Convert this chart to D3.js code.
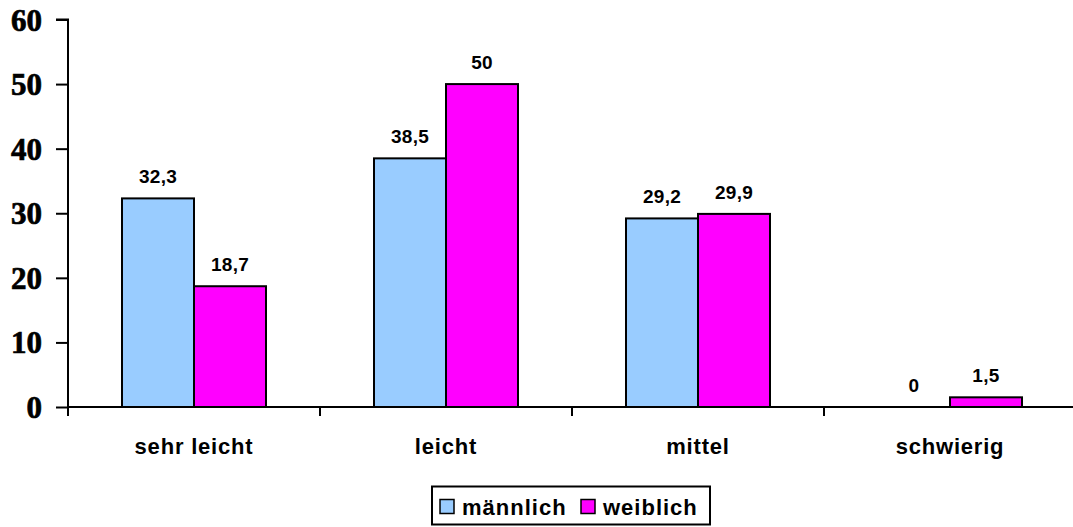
<!DOCTYPE html>
<html><head><meta charset="utf-8">
<script src="https://cdn.jsdelivr.net/npm/d3@7"></script>
<style>body{margin:0;background:#fff}</style>
</head><body>
<svg id="c" width="1073" height="527"></svg>
<script>
const categories = ["sehr leicht", "leicht", "mittel", "schwierig"];
const seriesNames = ["männlich", "weiblich"];
const maleValues = [32.3, 38.5, 29.2, 0];
const femaleValues = [18.7, 50, 29.9, 1.5];
const yTicks = [0, 10, 20, 30, 40, 50, 60];
const colors = ["#99CCFF", "#FF00FF"];

const svg = d3.select("#c");
const x0 = 68, x1 = 1076, yTop = 19.5, yBot = 407;
const x = d3.scaleBand().domain(categories).range([x0, x1]).paddingInner(0).paddingOuter(0);
const xs = d3.scaleBand().domain(seriesNames).range([0, x.bandwidth()]).paddingInner(0).paddingOuter(0.75);
const y = d3.scaleLinear().domain([0, 60]).range([yBot, yTop]);

// y axis
const yAxis = d3.axisLeft(y).tickValues(yTicks).tickSize(12).tickPadding(14).tickFormat(d3.format("d"));
const gy = svg.append("g").attr("transform", `translate(${x0},0)`).call(yAxis);
gy.select(".domain").attr("stroke", "#000").attr("stroke-width", 2).attr("d", `M-12,${yTop}H0V${yBot}`);
gy.selectAll(".tick line").attr("stroke", "#000").attr("stroke-width", 2);
gy.selectAll(".tick text").attr("font-family", "'Liberation Serif', 'Times New Roman', serif")
  .attr("font-weight", "bold").attr("font-size", 31).attr("fill", "#000")
  .attr("stroke", "#000").attr("stroke-width", 0.7).attr("dy", "0.34em");

// bars
const data = categories.map((c, i) => ({c, vals: [maleValues[i], femaleValues[i]]}));
const groups = svg.append("g").selectAll("g").data(data).join("g")
  .attr("transform", d => `translate(${x(d.c)},0)`);
groups.selectAll("rect").data(d => d.vals.map((v, j) => ({v, s: seriesNames[j], j})))
  .join("rect")
  .filter(d => d.v > 0)
  .attr("x", d => xs(d.s)).attr("width", xs.bandwidth())
  .attr("y", d => y(d.v)).attr("height", d => y(0) - y(d.v))
  .attr("fill", d => colors[d.j]).attr("stroke", "#000").attr("stroke-width", 2);
groups.selectAll("text").data(d => d.vals.map((v, j) => ({v, s: seriesNames[j], j})))
  .join("text")
  .attr("x", d => xs(d.s) + xs.bandwidth() / 2)
  .attr("y", d => y(d.v) - 15)
  .attr("text-anchor", "middle")
  .attr("font-family", "'Liberation Sans', Arial, sans-serif").attr("font-weight", "bold")
  .attr("font-size", 19).attr("letter-spacing", 0.3).attr("fill", "#000")
  .text(d => String(d.v).replace(".", ","));

// x axis
const xAxis = d3.axisBottom(x).tickSize(0).tickPadding(0).tickFormat("");
const gx = svg.append("g").attr("transform", `translate(0,${yBot})`).call(xAxis);
gx.select(".domain").attr("stroke", "#000").attr("stroke-width", 2).attr("d", `M${x0},0H1073`);
gx.selectAll(".tick").remove();
const bounds = categories.map(c => x(c));
svg.append("g").selectAll("line").data(bounds).join("line")
  .attr("x1", d => d).attr("x2", d => d).attr("y1", yBot).attr("y2", yBot + 9)
  .attr("stroke", "#000").attr("stroke-width", 2);
svg.append("g").selectAll("text").data(categories).join("text")
  .attr("x", d => x(d) + x.bandwidth() / 2).attr("y", 454)
  .attr("text-anchor", "middle")
  .attr("font-family", "'Liberation Sans', Arial, sans-serif").attr("font-weight", "bold")
  .attr("font-size", 22).attr("letter-spacing", 0.8).attr("fill", "#000")
  .text(d => d);

// legend
const lg = svg.append("g");
lg.append("rect").attr("x", 432).attr("y", 486.5).attr("width", 278).attr("height", 38)
  .attr("fill", "#fff").attr("stroke", "#000").attr("stroke-width", 2);
const legendX = [440, 581];
seriesNames.forEach((s, j) => {
  lg.append("rect").attr("x", legendX[j]).attr("y", 499.5).attr("width", 14).attr("height", 14)
    .attr("fill", colors[j]).attr("stroke", "#000").attr("stroke-width", 1.5);
  lg.append("text").attr("x", legendX[j] + 22).attr("y", 515)
    .attr("font-family", "'Liberation Sans', Arial, sans-serif").attr("font-weight", "bold")
    .attr("font-size", 22).attr("letter-spacing", 1).attr("fill", "#000").text(s);
});
</script>
</body></html>
